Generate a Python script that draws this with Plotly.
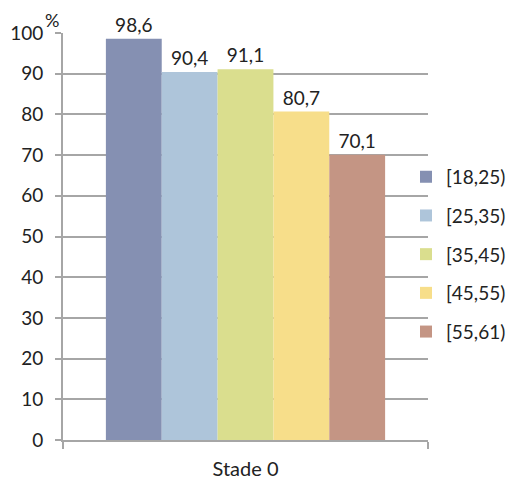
import plotly.graph_objects as go

categories = ["Stade 0"]
groups = ["[18,25)", "[25,35)", "[35,45)", "[45,55)", "[55,61)"]
values = [98.6, 90.4, 91.1, 80.7, 70.1]
colors = ["#8590B2", "#AEC5DA", "#DADE8E", "#F7DE8A", "#C49584"]
yticks = [0, 10, 20, 30, 40, 50, 60, 70, 80, 90, 100]

FONT = "Lato"
W, H = 516, 484
L, R, T, B = 63, 0, 33, 44
plot_w = W - L - R
dom_end = (428 - L) / plot_w

fig = go.Figure()
for g, v, c in zip(groups, values, colors):
    fig.add_trace(go.Bar(
        x=categories, y=[v], name=g, marker_color=c, marker_line_width=0,
        text=[v], texttemplate="%{y:.1f}", textposition="outside",
        textfont=dict(size=19, color="#222222", family=FONT),
        cliponaxis=False, legendgroup=g,
    ))

fig.update_layout(
    width=W, height=H,
    margin=dict(l=L, r=R, t=T, b=B),
    paper_bgcolor="white", plot_bgcolor="white",
    barmode="group", bargap=0.235, bargroupgap=0,
    separators=", ",
    font=dict(family=FONT, size=19, color="#222222"),
    showlegend=True,
    legend=dict(x=(406 - L) / plot_w, xanchor="left", y=0.456, yanchor="middle",
                traceorder="grouped", tracegroupgap=11,
                font=dict(size=19, family=FONT), bgcolor="rgba(0,0,0,0)"),
    xaxis=dict(domain=[0, dom_end], showline=True, linecolor="#A6A6A6", linewidth=2,
               ticks="outside", tickson="boundaries", ticklen=7,
               tickcolor="#A6A6A6", tickwidth=2, ticklabelstandoff=10,
               tickfont=dict(size=20, family=FONT), showgrid=False),
    yaxis=dict(range=[0, 100], tickvals=yticks, showline=True,
               linecolor="#A6A6A6", linewidth=2, ticks="outside", ticklen=6,
               tickcolor="#A6A6A6", tickwidth=2, showgrid=True,
               gridcolor="#A6A6A6", gridwidth=2, zeroline=False,
               ticklabelstandoff=8,
               tickfont=dict(size=19, family=FONT)),
    annotations=[dict(text="%", x=0, xref="paper", y=1, yref="paper",
                      xanchor="left", yanchor="bottom", xshift=-20, yshift=0,
                      showarrow=False, font=dict(size=18, family=FONT))],
)
fig.write_html("out.html")
